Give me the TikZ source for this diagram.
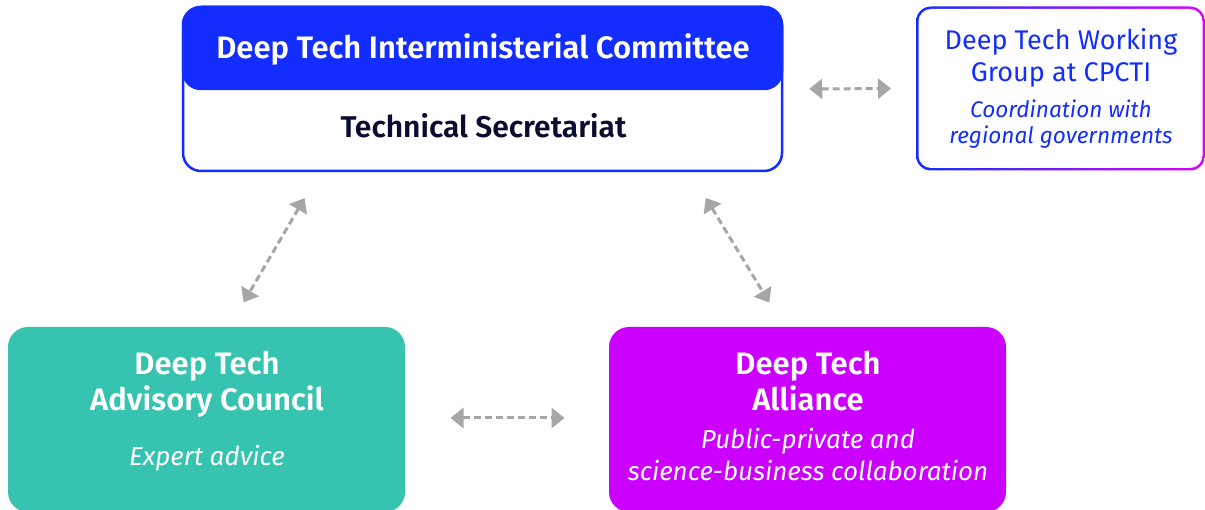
\documentclass[tikz,border=0pt]{standalone}
\usepackage{fontspec}
\setmainfont{Fira Sans}[BoldFont={Fira Sans SemiBold}]
\usetikzlibrary{arrows.meta,calc}

\definecolor{dtblue}{RGB}{20,45,255}
\definecolor{dtnavy}{RGB}{10,12,48}
\definecolor{dtteal}{RGB}{54,195,176}
\definecolor{dtmagenta}{RGB}{204,0,255}
\definecolor{dtpink}{RGB}{222,0,255}
\definecolor{linkgray}{RGB}{166,166,166}

\tikzset{
  every picture/.style={line width=1pt},
  box/.style={rectangle, rounded corners=18pt, inner sep=0pt},
  title/.style={anchor=base, text=white, font=\fontsize{31}{36}\selectfont\bfseries},
  subtitle/.style={anchor=base, text=white, font=\fontsize{26}{30}\selectfont\itshape},
  wgtitle/.style={anchor=base, text=dtblue, font=\fontsize{27}{32}\selectfont},
  wgsub/.style={anchor=base, text=dtblue, font=\fontsize{22.6}{26}\selectfont\itshape},
  link/.style={draw=linkgray, line width=3pt, dash pattern=on 7pt off 4pt,
    {Triangle[length=13pt,width=20pt]}-{Triangle[length=13pt,width=20pt]}},
}

\begin{document}
\begin{tikzpicture}[x=1pt,y=1pt,yscale=-1,xscale=1]
\fill[white] (0,0) rectangle (1205,510);
\clip (0,0) rectangle (1205,510);

% Committee and its secretariat
\node[box, draw=dtblue, line width=2.5pt, fill=white, minimum width=599pt, minimum height=164pt] (comm) at (482.5,89) {};
\node[box, draw=dtblue, line width=2.5pt, fill=dtblue, minimum width=599pt, minimum height=82pt] (head) at (482.5,48) {};
\node[title] (headtxt) at (483,59) {Deep Tech Interministerial Committee};
\node[title, text=dtnavy, font=\fontsize{30}{36}\selectfont\bfseries] (secr) at (483.5,138) {Technical Secretariat};

% Working group (gradient frame)
\node[box, rounded corners=15pt, left color=dtblue, right color=dtpink, minimum width=289pt, minimum height=164pt] (wgframe) at (1060.5,88.5) {};
\node[box, rounded corners=12.5pt, fill=white, minimum width=284pt, minimum height=159pt] (wg) at (1060.5,88.5) {};
\node[wgtitle] (wgl1) at (1061,50) {Deep Tech Working};
\node[wgtitle] (wgl2) at (1061,82) {Group at CPCTI};
\node[wgsub] (wgl3) at (1061,118) {Coordination with};
\node[wgsub] (wgl4) at (1061,144) {regional governments};

% Advisory council
\node[box, rounded corners=20pt, fill=dtteal, minimum width=397pt, minimum height=185pt] (adv) at (206.5,419.5) {};
\node[title] (advl1) at (207,375) {Deep Tech};
\node[title] (advl2) at (207,410) {Advisory Council};
\node[subtitle] (advl3) at (207,465) {Expert advice};

% Alliance
\node[box, rounded corners=20pt, fill=dtmagenta, minimum width=397pt, minimum height=185pt] (all) at (807.5,419.5) {};
\node[title] (alll1) at (808,375) {Deep Tech};
\node[title] (alll2) at (808,410) {Alliance};
\node[subtitle] (alll3) at (808,448) {Public-private and};
\node[subtitle] (alll4) at (808,480) {science-business collaboration};

% Links
\draw[link, shorten <=26pt, shorten >=27pt] (comm.east) -- (wg.west);
\draw[link, shorten <=30pt, shorten >=28pt] ($(comm.south west)+(138,0)$) -- ($(adv.north west)+(222,0)$);
\draw[link, shorten <=30pt, shorten >=28pt] ($(comm.south west)+(508.5,0)$) -- ($(all.north west)+(175.3,0)$);
\draw[link, shorten <=45pt, shorten >=44pt] ([yshift=-1.5pt]adv.east) -- ([yshift=-1.5pt]all.west);

\end{tikzpicture}
\end{document}
